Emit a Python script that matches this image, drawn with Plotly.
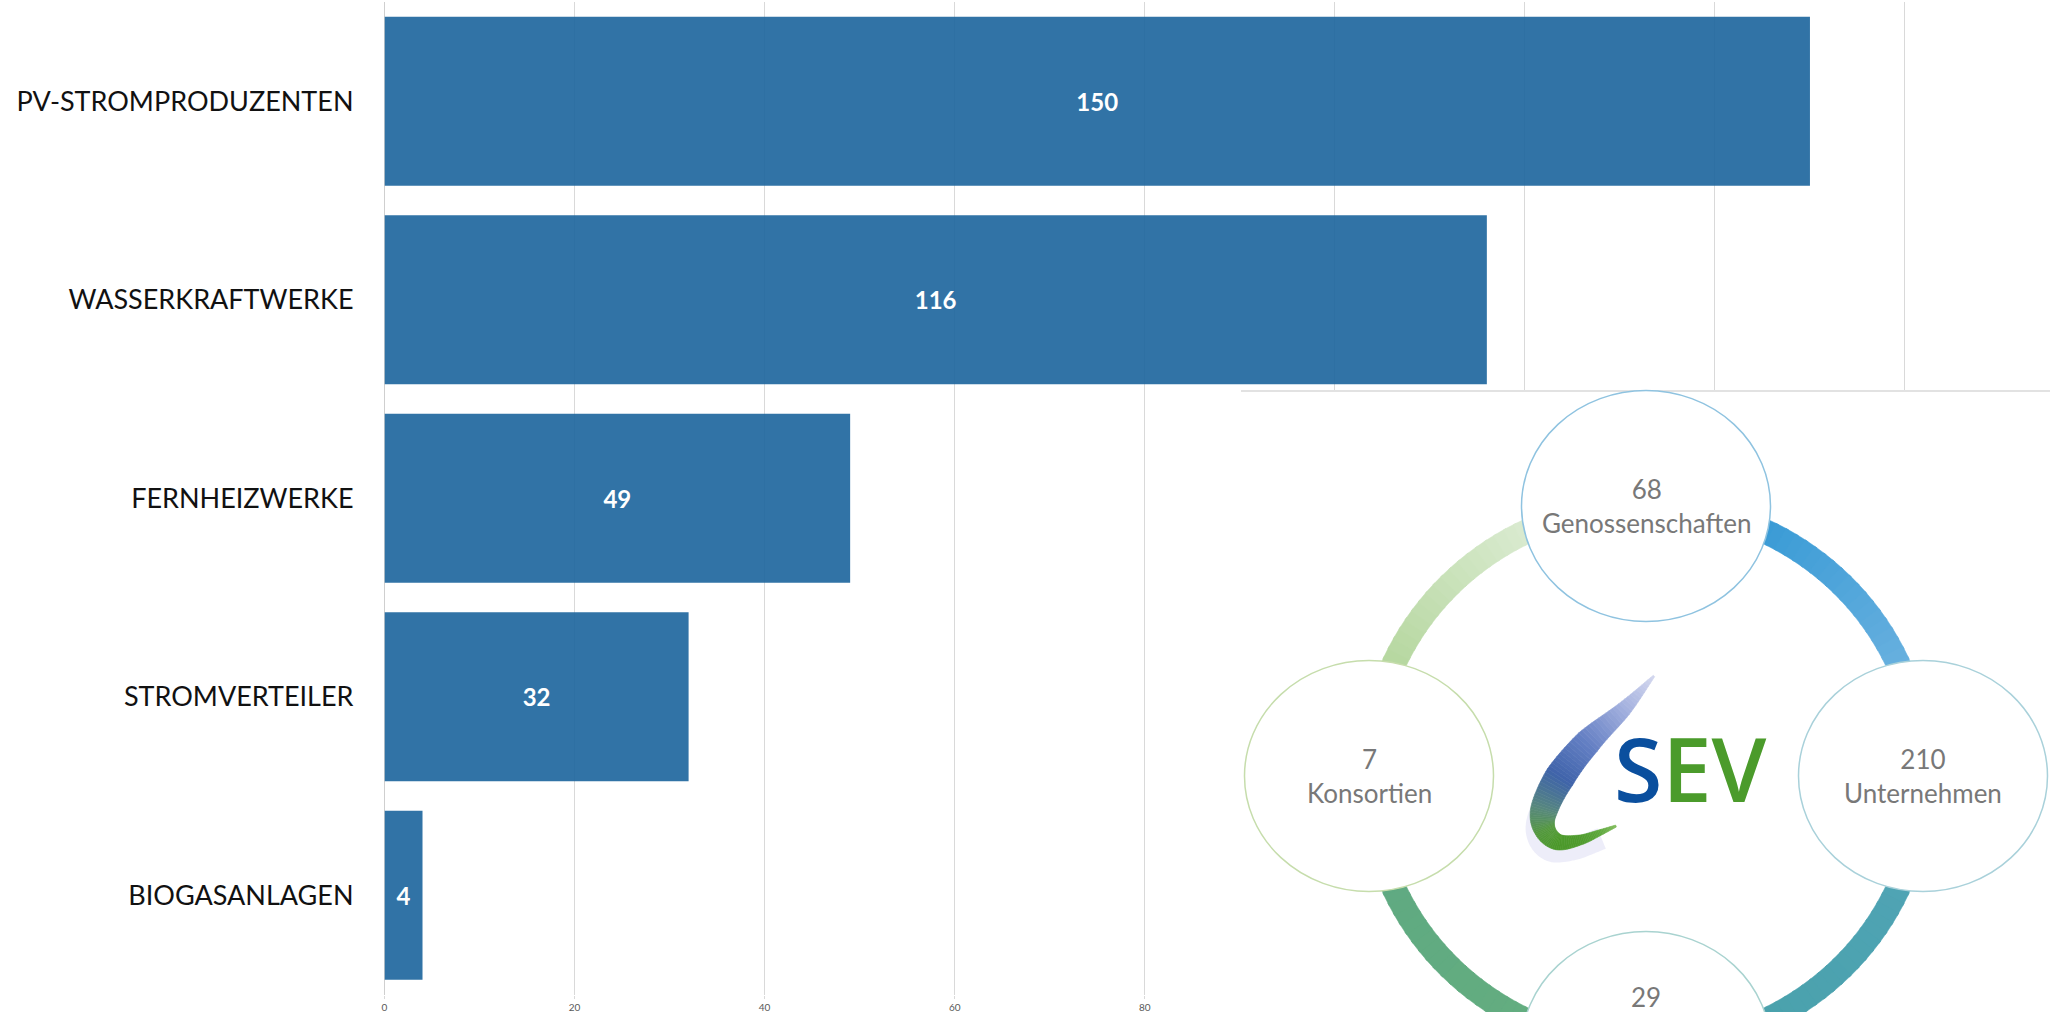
import numpy as np
import plotly.graph_objects as go

# ---------------- data ----------------
categories = ["PV-STROMPRODUZENTEN", "WASSERKRAFTWERKE", "FERNHEIZWERKE",
              "STROMVERTEILER", "BIOGASANLAGEN"]
values = [150, 116, 49, 32, 4]
x_ticks = [0, 20, 40, 60, 80, 100, 120, 140, 160]

node_values = [68, 210, 29, 7]
node_labels = ["Genossenschaften", "Unternehmen", "", "Konsortien"]
logo_letters = ["S", "EV"]

# ---------------- geometry / style ----------------
W, H = 2070, 1012
X0_PX, PX_PER_UNIT = 384.5, 9.503
PLOT_TOP, PLOT_BOT = 2.0, 994.5


def px(x):
    return x / W


def py(y):
    return 1 - y / H


def hex2rgb(h):
    h = h.lstrip("#")
    return np.array([int(h[i:i + 2], 16) for i in (0, 2, 4)], float)


def rgbstr(c):
    c = np.clip(np.round(c), 0, 255).astype(int)
    return f"rgb({c[0]},{c[1]},{c[2]})"


def path_str(pts, close=True):
    s = "M " + " L ".join(f"{px(x):.5f},{py(y):.5f}" for x, y in pts)
    return s + (" Z" if close else "")


fig = go.Figure()
fig.add_trace(go.Bar(
    y=categories, x=values, orientation="h",
    marker=dict(color="rgba(32,103,158,0.92)", line=dict(width=0)),
    text=[str(v) for v in values], textposition="inside",
    insidetextanchor="middle", textangle=0,
    textfont=dict(family="Lato", size=24, color="white", weight="bold"),
    hoverinfo="skip",
))

shapes = []
annotations = []

# overlay panel (picture of the SEV diagram)
OV_L, OV_T = 1241, 391
shapes.append(dict(type="rect", xref="paper", yref="paper", layer="above",
                   x0=px(OV_L), x1=px(W + 5), y0=py(H + 5), y1=py(OV_T),
                   fillcolor="white", line=dict(width=0)))
shapes.append(dict(type="line", xref="paper", yref="paper", layer="above",
                   x0=px(OV_L), x1=px(2050), y0=py(OV_T), y1=py(OV_T),
                   line=dict(color="#e2e2e2", width=2)))

# ring
CX, CY, RX, RY, RW = 1646, 776, 277, 271, 24
quadrants = [
    (90, 0, "#1d8ed0", "#82bce4"),
    (0, -90, "#52a5b9", "#47a0a7"),
    (-90, -180, "#66af7e", "#5da883"),
    (180, 90, "#9fcc82", "#f1f6ee"),
]
NSEG = 40
for a0, a1, c0, c1 in quadrants:
    ca, cb = hex2rgb(c0), hex2rgb(c1)
    for k in range(NSEG):
        t0 = k / NSEG
        t1 = (k + 1) / NSEG
        s0 = np.radians(a0 + (a1 - a0) * t0 - 0.3 * np.sign(a1 - a0))
        s1 = np.radians(a0 + (a1 - a0) * t1 + 0.3 * np.sign(a1 - a0))
        col = rgbstr(ca + (cb - ca) * (t0 + t1) / 2)
        ro_x, ro_y = RX + RW / 2, RY + RW / 2
        ri_x, ri_y = RX - RW / 2, RY - RW / 2
        pts = [(CX + ro_x * np.cos(s0), CY - ro_y * np.sin(s0)),
               (CX + ro_x * np.cos(s1), CY - ro_y * np.sin(s1)),
               (CX + ri_x * np.cos(s1), CY - ri_y * np.sin(s1)),
               (CX + ri_x * np.cos(s0), CY - ri_y * np.sin(s0))]
        shapes.append(dict(type="path", xref="paper", yref="paper", layer="above",
                           path=path_str(pts), fillcolor=col,
                           line=dict(color=col, width=0.5)))

# node circles
NRX, NRY = 124.5, 115.5
node_centers = [(1646, 506), (1923, 776), (1646, 1047), (1369, 776)]
node_borders = ["#8fc3e0", "#a9d1da", "#a9d3d0", "#c6ddac"]
for (nx, ny), bc in zip(node_centers, node_borders):
    shapes.append(dict(type="circle", xref="paper", yref="paper", layer="above",
                       x0=px(nx - NRX), x1=px(nx + NRX),
                       y0=py(ny + NRY), y1=py(ny - NRY),
                       fillcolor="white", line=dict(color=bc, width=1.5)))

for (nx, ny), v, lab in zip(node_centers, node_values, node_labels):
    if lab:
        annotations.append(dict(xref="paper", yref="paper", x=px(nx), y=py(ny),
                                xanchor="center", yanchor="middle", showarrow=False,
                                text=f"{v}<br>{lab}", align="center",
                                font=dict(family="Lato", size=26, color="#787878")))
    else:
        annotations.append(dict(xref="paper", yref="paper", x=px(nx), y=py(ny - 50),
                                xanchor="center", yanchor="middle", showarrow=False,
                                text=f"{v}", align="center",
                                font=dict(family="Lato", size=26, color="#787878")))


# logo swoosh
def catmull(points, n_per=12):
    P = np.array(points, float)
    P = np.vstack([P[0] * 2 - P[1], P, P[-1] * 2 - P[-2]])
    out, ts = [], []
    for i in range(1, len(P) - 2):
        p0, p1, p2, p3 = P[i - 1], P[i], P[i + 1], P[i + 2]
        for k in range(n_per):
            t = k / n_per
            t2, t3 = t * t, t * t * t
            pt = 0.5 * ((2 * p1) + (-p0 + p2) * t + (2 * p0 - 5 * p1 + 4 * p2 - p3) * t2
                        + (-p0 + 3 * p1 - 3 * p2 + p3) * t3)
            out.append(pt)
            ts.append(i - 1 + t)
    out.append(P[-2])
    ts.append(len(points) - 1)
    return np.array(out), np.array(ts)


sw_pts = [(1654, 676), (1624, 709), (1588, 742), (1560, 777), (1544, 810),
          (1545, 830), (1558, 842), (1580, 840), (1599, 833), (1616, 826)]
sw_w = [2, 15, 26, 30, 27, 21, 16, 10, 6, 2]
sw_c = ["#d4d8ef", "#a3b0de", "#6580c4", "#3f63aa", "#58897c",
        "#54983e", "#4b982a", "#4e9b2c", "#5ca63b", "#80bc5c"]
P, T = catmull(sw_pts)
idx = np.arange(len(sw_pts))
Wd = np.interp(T, idx, sw_w)
cols = np.array([[np.interp(t, idx, [hex2rgb(c)[ch] for c in sw_c]) for ch in range(3)] for t in T])

# soft glow under the swoosh
glow = [(x - 6, y + 9) for (x, y), t in zip(P, T) if 3.0 <= t <= 8.5]
shapes.append(dict(type="path", xref="paper", yref="paper", layer="above",
                   path=path_str(glow, close=False),
                   line=dict(color="rgba(190,190,235,0.28)", width=22)))

N = len(P)
normals = []
for j in range(N):
    a = P[max(j - 1, 0)]
    b = P[min(j + 1, N - 1)]
    d = b - a
    d = d / np.hypot(*d)
    normals.append(np.array([-d[1], d[0]]))
for j in range(N - 1):
    l0 = P[j] + normals[j] * Wd[j] / 2
    r0 = P[j] - normals[j] * Wd[j] / 2
    l1 = P[j + 1] + normals[j + 1] * Wd[j + 1] / 2
    r1 = P[j + 1] - normals[j + 1] * Wd[j + 1] / 2
    col = rgbstr((cols[j] + cols[j + 1]) / 2)
    shapes.append(dict(type="path", xref="paper", yref="paper", layer="above",
                       path=path_str([l0, l1, r1, r0]), fillcolor=col,
                       line=dict(color=col, width=0.6)))

annotations.append(dict(
    xref="paper", yref="paper", x=px(1690), y=py(768),
    xanchor="center", yanchor="middle", showarrow=False,
    text=f"<span style='color:#0a4f9e'>{logo_letters[0]}</span>"
         f"<span style='color:#4b9b2b'>{logo_letters[1]}</span>",
    font=dict(family="Open Sans", size=88, weight=600)))

fig.update_layout(
    width=W, height=H, template="none",
    margin=dict(l=0, r=0, t=0, b=0, pad=0),
    paper_bgcolor="white", plot_bgcolor="white",
    showlegend=False, bargap=0.149,
    shapes=shapes, annotations=annotations,
    xaxis=dict(domain=[X0_PX / W, 1],
               range=[0, (W - X0_PX) / PX_PER_UNIT],
               tickvals=x_ticks, ticktext=[str(v) for v in x_ticks],
               showgrid=True, gridcolor="#d9d9d9", gridwidth=1,
               zeroline=True, zerolinecolor="#cfcfcf", zerolinewidth=1,
               ticks="outside", ticklen=3, tickcolor="#d9d9d9",
               showline=False, automargin=False,
               tickfont=dict(family="Lato", size=10, color="#595959")),
    yaxis=dict(domain=[1 - PLOT_BOT / H, 1 - PLOT_TOP / H],
               type="category", categoryorder="array", categoryarray=categories,
               range=[len(categories) - 0.5, -0.5],
               showgrid=False, zeroline=False, showline=False, ticks="",
               ticklabelstandoff=30, automargin=False,
               tickfont=dict(family="Lato", size=27, color="#111111")),
)

fig.write_html("out.html")
